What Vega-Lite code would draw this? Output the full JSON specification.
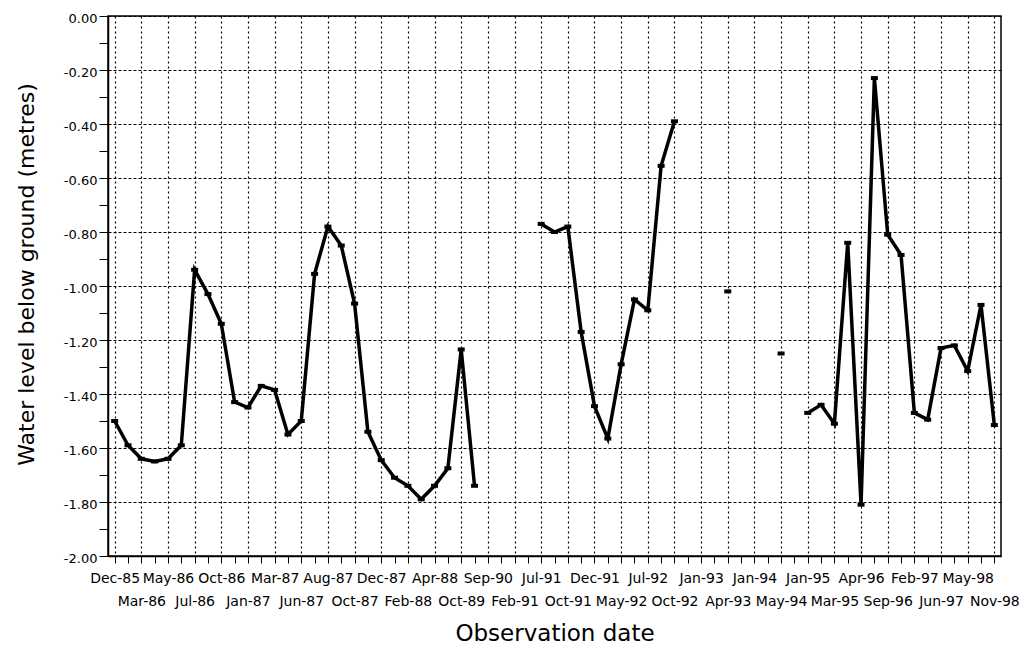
{
  "$schema": "https://vega.github.io/schema/vega-lite/v6.json",
  "width": 893,
  "height": 540,
  "autosize": {"type": "none"},
  "padding": {"left": 108, "top": 16, "right": 24, "bottom": 92},
  "background": "white",
  "params": [
    {"name": "L", "value": ["Dec-85","Mar-86","May-86","Jul-86","Oct-86","Jan-87","Mar-87","Jun-87","Aug-87","Oct-87","Dec-87","Feb-88","Apr-88","Oct-89","Sep-90","Feb-91","Jul-91","Oct-91","Dec-91","May-92","Jul-92","Oct-92","Jan-93","Apr-93","Jan-94","May-94","Jan-95","Mar-95","Apr-96","Sep-96","Feb-97","Jun-97","May-98","Nov-98"]}
  ],
  "data": {
    "values": [
      {"date": "Dec-85", "level": -1.50},
      {"date": "Jan-86", "level": -1.59},
      {"date": "Mar-86", "level": -1.64},
      {"date": "Apr-86", "level": -1.65},
      {"date": "May-86", "level": -1.64},
      {"date": "Jun-86", "level": -1.59},
      {"date": "Jul-86", "level": -0.94},
      {"date": "Aug-86", "level": -1.03},
      {"date": "Oct-86", "level": -1.14},
      {"date": "Nov-86", "level": -1.43},
      {"date": "Jan-87", "level": -1.45},
      {"date": "Feb-87", "level": -1.37},
      {"date": "Mar-87", "level": -1.385},
      {"date": "Apr-87", "level": -1.55},
      {"date": "Jun-87", "level": -1.50},
      {"date": "Jul-87", "level": -0.955},
      {"date": "Aug-87", "level": -0.78},
      {"date": "Sep-87", "level": -0.85},
      {"date": "Oct-87", "level": -1.065},
      {"date": "Nov-87", "level": -1.54},
      {"date": "Dec-87", "level": -1.645},
      {"date": "Jan-88", "level": -1.71},
      {"date": "Feb-88", "level": -1.74},
      {"date": "Mar-88", "level": -1.79},
      {"date": "Apr-88", "level": -1.74},
      {"date": "Aug-88", "level": -1.675},
      {"date": "Oct-89", "level": -1.235},
      {"date": "Mar-90", "level": -1.74},
      {"date": "Sep-90", "level": null},
      {"date": "Dec-90", "level": null},
      {"date": "Feb-91", "level": null},
      {"date": "Apr-91", "level": null},
      {"date": "Jul-91", "level": -0.77},
      {"date": "Aug-91", "level": -0.80},
      {"date": "Oct-91", "level": -0.78},
      {"date": "Nov-91", "level": -1.17},
      {"date": "Dec-91", "level": -1.445},
      {"date": "Feb-92", "level": -1.565},
      {"date": "May-92", "level": -1.29},
      {"date": "Jun-92", "level": -1.05},
      {"date": "Jul-92", "level": -1.09},
      {"date": "Aug-92", "level": -0.555},
      {"date": "Oct-92", "level": -0.39},
      {"date": "Nov-92", "level": null},
      {"date": "Jan-93", "level": null},
      {"date": "Feb-93", "level": null},
      {"date": "Apr-93", "level": -1.02},
      {"date": "Aug-93", "level": null},
      {"date": "Jan-94", "level": null},
      {"date": "Mar-94", "level": null},
      {"date": "May-94", "level": -1.25},
      {"date": "Sep-94", "level": null},
      {"date": "Jan-95", "level": -1.47},
      {"date": "Feb-95", "level": -1.44},
      {"date": "Mar-95", "level": -1.51},
      {"date": "Sep-95", "level": -0.84},
      {"date": "Apr-96", "level": -1.81},
      {"date": "Jun-96", "level": -0.23},
      {"date": "Sep-96", "level": -0.81},
      {"date": "Nov-96", "level": -0.885},
      {"date": "Feb-97", "level": -1.47},
      {"date": "Apr-97", "level": -1.495},
      {"date": "Jun-97", "level": -1.23},
      {"date": "Nov-97", "level": -1.22},
      {"date": "May-98", "level": -1.315},
      {"date": "Aug-98", "level": -1.07},
      {"date": "Nov-98", "level": -1.515}
    ]
  },
  "encoding": {
    "x": {
      "field": "date",
      "type": "ordinal",
      "sort": null,
      "scale": {"type": "point", "padding": 0.5},
      "axis": {
        "title": "Observation date",
        "titleFont": "DejaVu Sans",
        "titleFontSize": 23,
        "titleFontWeight": "normal",
        "titleColor": "black",
        "titleBaseline": "top",
        "titleY": 66,
        "labelAngle": 0,
        "labelFont": "DejaVu Sans",
        "labelFontSize": 14,
        "labelColor": "black",
        "labelBaseline": "top",
        "labelLineHeight": 23,
        "labelPadding": 8,
        "labelOverlap": false,
        "labelBound": false,
        "labelFlush": false,
        "labelExpr": "indexof(L, datum.value) < 0 ? '' : (indexof(L, datum.value) % 2 == 0 ? datum.value : ['', datum.value])",
        "domainColor": "black",
        "domainWidth": 1.5,
        "tickColor": "black",
        "tickSize": 7,
        "tickWidth": 1,
        "grid": true,
        "gridColor": "black",
        "gridWidth": 1.2,
        "gridDash": [2, 3],
        "gridOpacity": {"condition": {"test": "indexof(L, datum.value) >= 0", "value": 1}, "value": 0}
      }
    },
    "y": {
      "field": "level",
      "type": "quantitative",
      "scale": {"domain": [-2, 0], "nice": false, "zero": false},
      "axis": {
        "title": "Water level below ground (metres)",
        "titleFont": "DejaVu Sans",
        "titleFontSize": 22,
        "titleFontWeight": "normal",
        "titleColor": "black",
        "titleX": -70,
        "titleY": 258,
        "titleAngle": 270,
        "titleBaseline": "bottom",
        "titleAlign": "center",
        "values": [0, -0.1, -0.2, -0.3, -0.4, -0.5, -0.6, -0.7, -0.8, -0.9, -1.0, -1.1, -1.2, -1.3, -1.4, -1.5, -1.6, -1.7, -1.8, -1.9, -2.0],
        "labelExpr": "abs(round(datum.value * 10)) % 2 == 0 ? replace(format(datum.value, '.2f'), '\u2212', '-') : ''",
        "labelFont": "DejaVu Sans",
        "labelFontSize": 13,
        "labelColor": "black",
        "labelPadding": 2,
        "labelOffset": 2,
        "labelOverlap": false,
        "labelBound": false,
        "labelFlush": false,
        "domainColor": "black",
        "domainWidth": 1.5,
        "tickColor": "black",
        "tickSize": 9,
        "tickWidth": 1,
        "grid": true,
        "gridColor": "black",
        "gridWidth": 1.2,
        "gridDash": [3, 2],
        "gridOpacity": {"condition": {"test": "abs(round(datum.value * 10)) % 2 == 0", "value": 1}, "value": 0}
      }
    }
  },
  "layer": [
    {
      "mark": {"type": "line", "color": "black", "strokeWidth": 3.5, "invalid": "break-paths-show-domains"}
    },
    {
      "mark": {"type": "tick", "color": "black", "opacity": 1, "size": 7, "thickness": 4, "orient": "horizontal"}
    }
  ],
  "config": {
    "view": {"stroke": "black", "strokeWidth": 1.5}
  }
}
